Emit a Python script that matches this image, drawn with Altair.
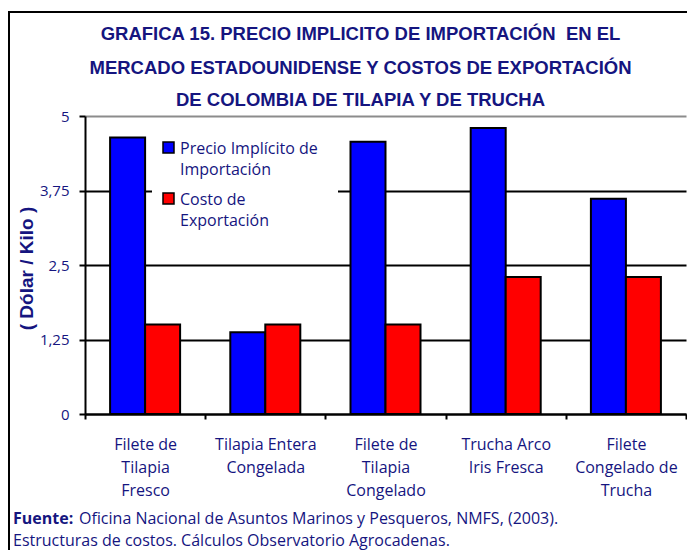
import altair as alt
import pandas as pd

categories = ["Filete de|Tilapia|Fresco", "Tilapia Entera|Congelada",
              "Filete de|Tilapia|Congelado", "Trucha Arco|Iris Fresca",
              "Filete|Congelado de|Trucha"]
series = ["Precio Implícito de|Importación", "Costo de|Exportación"]
precio = [4.64, 1.37, 4.57, 4.80, 3.61]
costo = [1.50, 1.50, 1.50, 2.30, 2.30]
colors = ["#0000FF", "#FF0000"]
y_ticks = [0, 1.25, 2.5, 3.75, 5]
title_lines = ["GRAFICA 15. PRECIO IMPLICITO DE IMPORTACIÓN\u00a0 EN EL",
               "MERCADO ESTADOUNIDENSE Y COSTOS DE EXPORTACIÓN",
               "DE COLOMBIA DE TILAPIA Y DE TRUCHA"]
y_title = "( Dólar / Kilo )"
source_bold = "Fuente:"
source_line1 = "Oficina Nacional de Asuntos Marinos y Pesqueros, NMFS, (2003)."
source_line2 = "Estructuras de costos. Cálculos Observatorio Agrocadenas."

NAVY = "#15157f"
FONT = "Open Sans"
TFONT = "Liberation Sans"

rows = []
for c, p, k in zip(categories, precio, costo):
    rows.append({"cat": c, "serie": series[0], "val": p})
    rows.append({"cat": c, "serie": series[1], "val": k})
df = pd.DataFrame(rows)

bars = alt.Chart(df).mark_bar().encode(
    x=alt.X("cat:N", sort=categories,
            scale=alt.Scale(paddingInner=0, paddingOuter=0),
            axis=alt.Axis(title=None, labelAngle=0, tickBand="extent",
                          labelExpr="split(datum.label, '|')",
                          labelFont=FONT, labelFontSize=16, labelColor=NAVY,
                          labelLineHeight=23, labelPadding=17, labelLimit=300,
                          domainColor="black", domainWidth=2,
                          tickColor="black", tickWidth=2, tickSize=5, grid=False)),
    xOffset=alt.XOffset("serie:N", sort=series,
                        scale=alt.Scale(paddingInner=0, paddingOuter=0.717)),
    y=alt.Y("val:Q", scale=alt.Scale(domain=[0, 5], nice=False),
            axis=alt.Axis(values=y_ticks, title=y_title,
                          labelExpr="replace(format(datum.value, ''), '.', ',')",
                          labelFont=FONT, labelFontSize=15, labelColor=NAVY,
                          labelPadding=10,
                          domainColor="black", domainWidth=2,
                          tickColor="black", tickWidth=2, tickSize=6,
                          grid=True, gridWidth=2,
                          gridColor={"condition": {"test": "datum.value === 5", "value": "#8c8c8c"},
                                     "value": "black"},
                          titleFont=TFONT, titleFontSize=19,
                          titleFontWeight="bold", titleColor=NAVY,
                          titleAngle=-90, titleX=-59, titleY=152,
                          titleAlign="center", titleBaseline="middle")),
    color=alt.Color("serie:N", sort=series,
                    scale=alt.Scale(domain=series, range=colors), legend=None),
    stroke=alt.value("black"),
    strokeWidth=alt.value(2),
)

one = pd.DataFrame({"a": [0]})

frame = alt.Chart(one).mark_rect(
    fill=None, stroke="black", strokeWidth=2).encode(
    x=alt.value(-76), x2=alt.value(640), y=alt.value(-104), y2=alt.value(460))


def text_layer(txt, x, y, size=16, bold=False, font=FONT, align="left"):
    return alt.Chart(one).mark_text(
        align=align, baseline="middle", font=font, fontSize=size,
        fontWeight="bold" if bold else "normal", color=NAVY, text=txt).encode(
        x=alt.value(x), y=alt.value(y))


# title (three centred lines)
title_layers = [text_layer(t, 275.5, yy, size=18.5, bold=True, font=TFONT, align="center")
                for t, yy in zip(title_lines, [-82, -48, -16])]

# legend box (white, masks the grid line) + swatches + labels
legend_box = alt.Chart(one).mark_rect(fill="white", stroke=None).encode(
    x=alt.value(67), x2=alt.value(253), y=alt.value(14), y2=alt.value(119))
sw1 = alt.Chart(one).mark_rect(fill=colors[0], stroke="black", strokeWidth=1.5).encode(
    x=alt.value(78), x2=alt.value(89), y=alt.value(26), y2=alt.value(37))
sw2 = alt.Chart(one).mark_rect(fill=colors[1], stroke="black", strokeWidth=1.5).encode(
    x=alt.value(78), x2=alt.value(89), y=alt.value(77), y2=alt.value(88))
leg_lines = series[0].split("|") + series[1].split("|")
leg_layers = [text_layer(t, 95, yy) for t, yy in zip(leg_lines, [32.5, 54, 83.5, 104.5])]

src_b = text_layer(source_bold, -72, 403, bold=True)
src_1 = text_layer(source_line1, -6, 403)
src_2 = text_layer(source_line2, -72, 425)

chart = alt.layer(frame, bars, legend_box, sw1, sw2, *leg_layers, *title_layers,
                  src_b, src_1, src_2).properties(
    width=601, height=298,
    autosize=alt.AutoSizeParams(type="none"),
    padding={"left": 77, "top": 108, "right": 1, "bottom": 136},
).configure_view(stroke=None)

chart.save("out.html", embed_options={"renderer": "svg", "actions": False})
